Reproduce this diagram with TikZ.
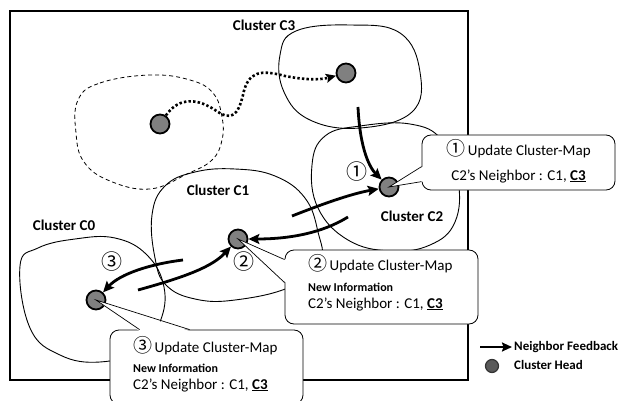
\documentclass[tikz,border=0pt]{standalone}
\usepackage{fontspec}
\setmainfont{Carlito}
\newfontfamily\cjk{Noto Sans CJK JP}
\usetikzlibrary{arrows.meta,calc}

\newcommand{\cnum}[1]{{\cjk\fontsize{19pt}{19pt}\selectfont #1}}

\begin{document}
\begin{tikzpicture}[x=1pt,y=-1pt,
  blob/.style={line width=0.9pt},
  dashblob/.style={line width=0.8pt, dash pattern=on 4pt off 3pt},
  head/.style={circle, draw=black, line width=1.8pt, fill=black!50,
    minimum size=19pt, inner sep=0pt},
  feedback/.style={line width=2.8pt,
    -{Stealth[length=11pt,width=10pt,inset=2pt]}},
  move/.style={line width=2.6pt, dash pattern=on 2.4pt off 2.2pt,
    -{Stealth[length=10pt,width=9pt,inset=2pt]}},
  callbox/.style={rectangle, rounded corners=9pt, draw=black, line width=0.8pt,
    fill=white, inner sep=0pt},
  pointer/.style={line width=0.7pt},
  clabel/.style={font=\bfseries\fontsize{15pt}{15pt}\selectfont, inner sep=0pt, anchor=base},
  ctext/.style={font=\fontsize{15pt}{15pt}\selectfont, inner sep=0pt},
  newinfo/.style={font=\bfseries\fontsize{12pt}{12pt}\selectfont, inner sep=0pt, anchor=base west},
  legtext/.style={font=\bfseries\fontsize{13pt}{13pt}\selectfont, inner sep=0pt, anchor=base west},
  stepnum/.style={inner sep=0pt, font=\cjk\fontsize{21pt}{21pt}\selectfont}
]
\useasboundingbox (0,0) rectangle (621,401);

% outer frame
\draw[line width=1.4pt] (10,11) rectangle (468,380);

% cluster regions
\draw[dashblob] plot[smooth cycle, tension=0.7] coordinates {
  (78,100) (100,83) (150,75) (190,80) (213,93) (222,117) (222,140)
  (212,160) (187,174) (150,189) (110,181) (84,162) (76,133)};
\draw[blob] plot[smooth cycle, tension=0.7] coordinates {
  (280,55) (296,31) (350,25) (400,33) (420,72) (412,112) (360,128)
  (310,120) (284,92)};
\draw[blob] plot[smooth cycle, tension=0.7] coordinates {
  (312,165) (325,136) (360,126) (410,124) (442,140) (458,180) (455,222)
  (430,245) (390,251) (348,240) (318,208)};
\draw[blob] plot[smooth cycle, tension=0.7] coordinates {
  (152,215) (165,186) (195,172) (235,169) (275,176) (305,198) (318,232)
  (320,262) (290,287) (235,300) (195,299) (166,285) (155,258)};
\draw[blob] plot[smooth cycle, tension=0.7] coordinates {
  (20,266) (38,248) (75,239) (115,238) (147,255) (164,287) (160,322)
  (140,350) (100,362) (60,355) (30,328)};

% cluster labels
\node[clabel] (lc3) at (264,31) {Cluster C3};
\node[clabel] (lc1) at (218,195) {Cluster C1};
\node[clabel] (lc0) at (64,230) {Cluster C0};
\node[clabel] (lc2) at (412,221) {Cluster C2};

% cluster heads
\node[head] (hd) at (160,124) {};
\node[head] (h3) at (346,73) {};
\node[head] (h2) at (389,187) {};
\node[head] (h1) at (238,239) {};
\node[head] (h0) at (96,300) {};

% head movement
\draw[move] (hd) .. controls (180,95) and (200,100) .. (215,110)
  .. controls (232,122) and (238,115) .. (243,95)
  .. controls (248,70) and (262,70) .. (285,76)
  .. controls (305,80) and (320,80) .. (h3);

% neighbor feedback
\coordinate (s32) at (358,107);
\coordinate (s12) at (292,216);
\coordinate (s21) at (348,217);
\coordinate (s01) at (138,290);
\coordinate (s10) at (183,260);
\draw[feedback] (s32) .. controls (360,150) and (370,168) .. (h2);
\draw[feedback] (s12) .. controls (320,205) and (350,194) .. (h2);
\draw[feedback] (s21) .. controls (322,233) and (290,239) .. (h1);
\draw[feedback] (s01) .. controls (185,277) and (212,267) .. (h1);
\draw[feedback] (s10) .. controls (150,264) and (120,274) .. (h0);

% step numbers
\node[stepnum] (n1) at (357,172) {①};
\node[stepnum] (n2) at (244,262) {②};
\node[stepnum] (n3) at (112,262) {③};

% callout 1
\node[callbox, minimum width=193pt, minimum height=55pt] (b1) at (518.5,162.5) {};
\fill[white] (h2.center) -- ($(b1.north west)+(1.5,32)$) -- ($(b1.north west)+(1.5,47)$) -- cycle;
\draw[pointer] ($(b1.north west)+(0,32)$) -- (h2.center) -- ($(b1.north west)+(0,47)$);
\node[ctext, anchor=base] (t11) at (518.5,156) {\cnum{①}\,Update Cluster-Map};
\node[ctext, anchor=base] (t12) at (518.5,180) {C2’s Neighbor : C1, \underline{\textbf{C3}}};

% callout 2
\node[callbox, minimum width=193pt, minimum height=74pt] (b2) at (381.5,287) {};
\fill[white] (h1.center) -- ($(b2.north west)+(1.5,10)$) -- ($(b2.north west)+(1.5,33)$) -- cycle;
\draw[pointer] ($(b2.north west)+(0,10)$) -- (h1.center) -- ($(b2.north west)+(0,33)$);
\node[ctext, anchor=base west] (t21) at (308,270) {\cnum{②}\,Update Cluster-Map};
\node[newinfo] (t22) at (308,291) {New Information};
\node[ctext, anchor=base west] (t23) at (308,308) {C2’s Neighbor : C1, \underline{\textbf{C3}}};

% callout 3
\node[callbox, minimum width=193pt, minimum height=74pt] (b3) at (206.5,367) {};
\fill[white] (h0.center) -- ($(b3.north west)+(30,1.5)$) -- ($(b3.north west)+(80,1.5)$) -- cycle;
\draw[pointer] ($(b3.north west)+(30,0)$) -- (h0.center) -- ($(b3.north west)+(80,0)$);
\node[ctext, anchor=base west] (t31) at (133,352) {\cnum{③}\,Update Cluster-Map};
\node[newinfo] (t32) at (133,372) {New Information};
\node[ctext, anchor=base west] (t33) at (133,389) {C2’s Neighbor : C1, \underline{\textbf{C3}}};

% legend
\coordinate (la) at (480,347);
\coordinate (lb) at (512,347);
\draw[line width=2pt, -{Stealth[length=10pt,width=9pt,inset=1.5pt]}] (la) -- (lb);
\node[legtext] (lg1) at (514,350) {Neighbor Feedback};
\node[circle, draw=black!80, line width=1.2pt, fill=black!65, minimum size=13pt, inner sep=0pt] (lh) at (492,366) {};
\node[legtext] (lg2) at (514,369) {Cluster Head};
\end{tikzpicture}
\end{document}
